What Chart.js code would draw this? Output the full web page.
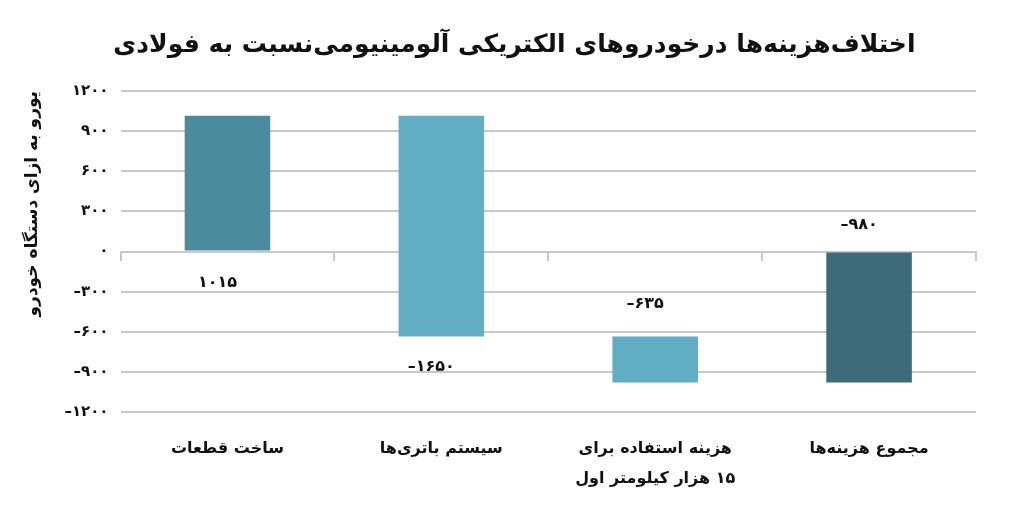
<!DOCTYPE html>
<html>
<head>
<meta charset="utf-8">
<script src="https://cdn.jsdelivr.net/npm/chart.js@4/dist/chart.umd.min.js"></script>
<style>
    html, body { margin: 0; padding: 0; background: #fff; }
    #wrap { width: 1010px; height: 508px; }
</style>
</head>
<body>
<div id="wrap"><canvas id="costChart"></canvas></div>
<script>
// leading spaces nudge the centred title a little to the right, as in the original
const chartTitle = "\u00A0\u00A0\u00A0\u00A0اختلاف‌هزینه‌ها درخودروهای الکتریکی آلومینیومی‌نسبت به فولادی";
const yAxisTitle = "یورو به ازای دستگاه خودرو";

// RLM keeps the leading digits on the right side of the line
const categories = [
    ["ساخت قطعات"],
    ["سیستم باتری‌ها"],
    ["هزینه استفاده برای", "\u200F۱۵ هزار کیلومتر اول"],
    ["مجموع هزینه‌ها"],
];
// floating bars: [start, end]
const barStarts = [0, 1015, -635, 0];
const barEnds = [1015, -635, -980, -980];
const valueLabels = ["۱۰۱۵", "–۱۶۵۰", "–۶۳۵", "–۹۸۰"];
const barColors = ["#4a8b9d", "#62aec4", "#60adc4", "#3e6b7a"];
const yTicks = [-1200, -900, -600, -300, 0, 300, 600, 900, 1200];

const persianDigits = "۰۱۲۳۴۵۶۷۸۹";

function toPersian(value) {
    const text = String(Math.abs(value)).replace(/\d/g, (d) => persianDigits[d]);
    return value < 0 ? "–" + text : text;
}

const gridColor = "#c9c9c9";
const fontFamily = "'DejaVu Sans', sans-serif";

const valueLabelPlugin = {
    id: "valueLabels",
    afterDatasetsDraw(chart) {
        const ctx = chart.ctx;
        const meta = chart.getDatasetMeta(0);

        ctx.save();
        ctx.font = "bold 16px " + fontFamily;
        ctx.fillStyle = "#111";
        ctx.textAlign = "center";
        ctx.textBaseline = "middle";

        meta.data.forEach((bar, i) => {
            const top = Math.min(bar.y, bar.base);
            const bottom = Math.max(bar.y, bar.base);
            let y;

            if (i === 0) {
                y = bottom + 32;
            } else if (i === 1) {
                y = bottom + 30;
            } else if (i === 2) {
                y = top - 33;
            } else {
                y = top - 28;
            }

            ctx.fillText(valueLabels[i], bar.x - 10, y);
        });

        ctx.restore();
    }
};

const ctx = document.getElementById("costChart").getContext("2d");

new Chart(ctx, {
    type: "bar",
    data: {
        labels: categories,
        datasets: [{
            data: barStarts.map((start, i) => [start, barEnds[i]]),
            backgroundColor: barColors,
            borderWidth: 0,
            categoryPercentage: 1,
            barPercentage: 0.4
        }]
    },
    options: {
        responsive: true,
        maintainAspectRatio: false,
        animation: false,
        layout: {
            padding: { left: 18, right: 34, top: 10, bottom: 3 }
        },
        plugins: {
            legend: { display: false },
            tooltip: { enabled: false },
            title: {
                display: true,
                text: chartTitle,
                color: "#111",
                font: { family: fontFamily, size: 25, weight: "bold" },
                padding: { top: 20, bottom: 31 }
            }
        },
        scales: {
            x: {
                position: "bottom",
                afterFit(scale) {
                    scale.height = 93;
                },
                grid: { display: false, drawTicks: false },
                border: { display: false },
                ticks: {
                    color: "#111",
                    font: { family: fontFamily, size: 16, weight: "bold", lineHeight: 1.85 },
                    padding: 22,
                    maxRotation: 0
                }
            },
            zeroAxis: {
                type: "category",
                axis: "x",
                position: { y: 0 },
                labels: categories,
                offset: true,
                afterFit(scale) {
                    scale.height = 0;
                },
                grid: {
                    offset: true,
                    drawOnChartArea: false,
                    tickLength: 8,
                    color: gridColor,
                    lineWidth: 2
                },
                border: { color: gridColor, width: 2 },
                ticks: { display: false }
            },
            y: {
                min: -1200,
                max: 1200,
                afterBuildTicks(scale) {
                    scale.ticks = yTicks.map((value) => ({ value }));
                },
                grid: {
                    color: gridColor,
                    lineWidth: 2,
                    drawTicks: false
                },
                border: { display: false },
                ticks: {
                    color: "#111",
                    padding: 12,
                    font: { family: fontFamily, size: 15, weight: "bold" },
                    callback: (value) => toPersian(value)
                },
                title: {
                    display: true,
                    text: yAxisTitle,
                    align: "end",
                    color: "#111",
                    font: { family: fontFamily, size: 17, weight: "bold" },
                    padding: { bottom: 10 }
                }
            }
        }
    },
    plugins: [valueLabelPlugin]
});
</script>
</body>
</html>
